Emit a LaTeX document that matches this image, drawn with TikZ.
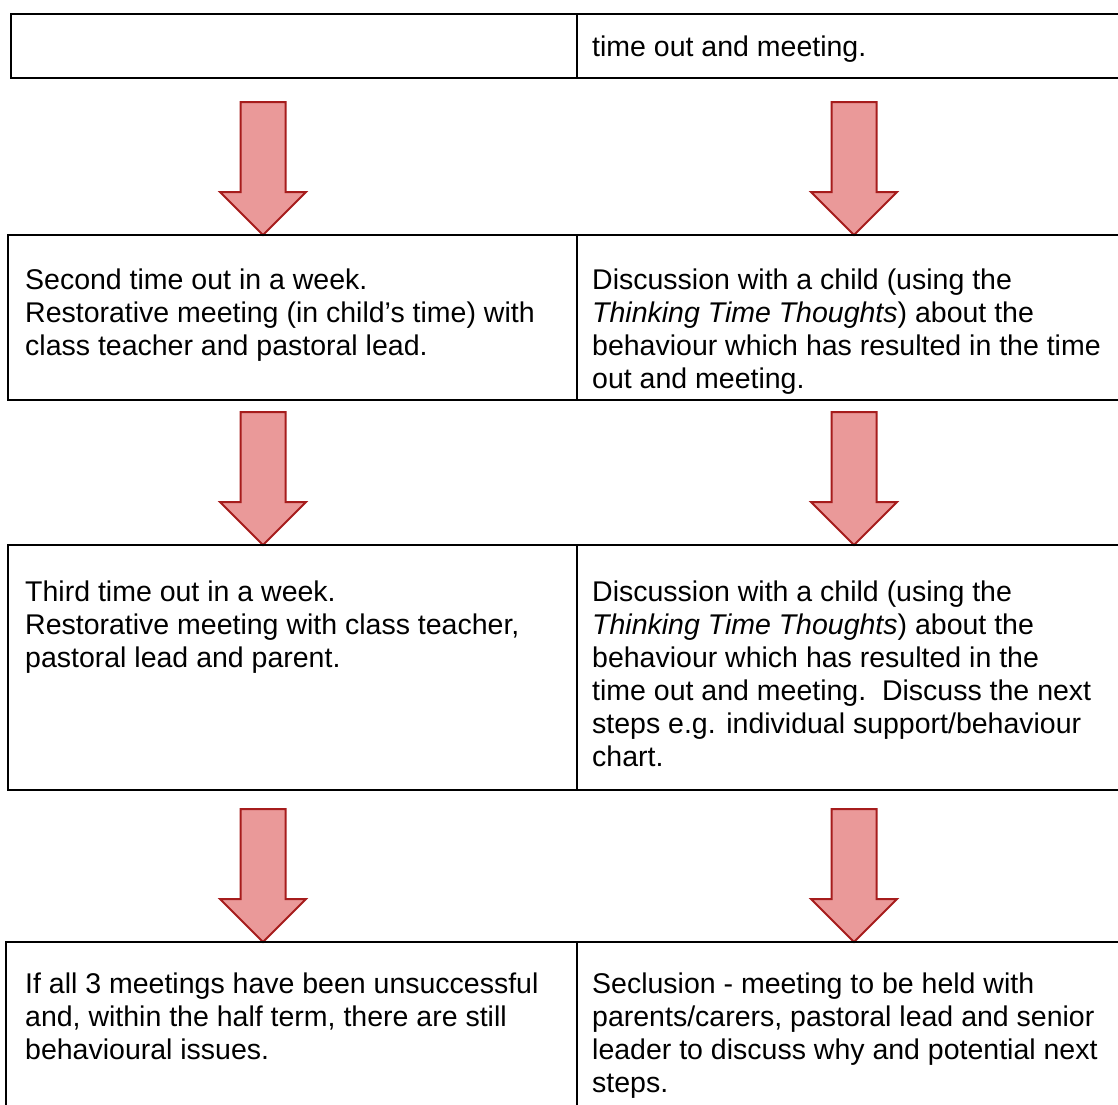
\documentclass[tikz,border=0pt]{standalone}
\usepackage{fontspec}
\setmainfont{Liberation Sans}
\definecolor{ArrowFill}{HTML}{EA9999}
\definecolor{ArrowLine}{HTML}{A61C1C}
\tikzset{
    cell/.style={draw=black, line width=2.5pt},
    cell text/.style={anchor=north west, inner sep=0pt, align=left,
        font=\fontsize{28.5}{33}\selectfont},
    down arrow/.style={fill=ArrowFill, draw=ArrowLine, line width=2pt, line join=miter}
}
% block arrow: x of centre, y of top
\newcommand{\flowarrow}[2]{%
    \draw[down arrow] (#1-22.5,#2) -- (#1+22.5,#2) -- (#1+22.5,#2+90)
    -- (#1+43,#2+90) -- (#1,#2+133) -- (#1-43,#2+90) -- (#1-22.5,#2+90) -- cycle;
}

\begin{document}
\begin{tikzpicture}[x=1pt, y=-1pt]

    \useasboundingbox (0,0) rectangle (1118,1104);

    % Fila 1
    \draw[cell] (11,14) rectangle (1130,78);
    \draw[cell] (577,14) -- (577,78);
    \node[cell text] (oneR) at (592,33) {\strut time out and meeting.};

    \flowarrow{263}{102}
    \flowarrow{854}{102}

    % Fila 2
    \draw[cell] (8,235) rectangle (1130,400);
    \draw[cell] (577,235) -- (577,400);
    \node[cell text] (twoL) at (25,266) {\strut Second time out in a week.\\
        Restorative meeting (in child’s time) with\\
        class teacher and pastoral lead.};
    \node[cell text] (twoR) at (592,266) {\strut Discussion with a child (using the\\
        \textit{Thinking Time Thoughts}) about the\\
        behaviour which has resulted in the time\\
        out and meeting.};

    \flowarrow{263}{412}
    \flowarrow{854}{412}

    % Fila 3
    \draw[cell] (8,545) rectangle (1130,790);
    \draw[cell] (577,545) -- (577,790);
    \node[cell text] (threeL) at (25,578) {\strut Third time out in a week.\\
        Restorative meeting with class teacher,\\
        pastoral lead and parent.};
    \node[cell text] (threeR) at (592,578) {\strut Discussion with a child (using the\\
        \textit{Thinking Time Thoughts}) about the\\
        behaviour which has resulted in the\\
        time out and meeting.\ \ Discuss the next\\
        steps e.g. individual support/behaviour\\
        chart.};

    \flowarrow{263}{809}
    \flowarrow{854}{809}

    % Fila 4
    \draw[cell] (6,942) rectangle (1130,1120);
    \draw[cell] (577,942) -- (577,1120);
    \node[cell text] (fourL) at (25,970) {\strut If all 3 meetings have been unsuccessful\\
        and, within the half term, there are still\\
        behavioural issues.};
    \node[cell text] (fourR) at (592,970) {\strut Seclusion - meeting to be held with\\
        parents/carers, pastoral lead and senior\\
        leader to discuss why and potential next\\
        steps.};

\end{tikzpicture}
\end{document}
